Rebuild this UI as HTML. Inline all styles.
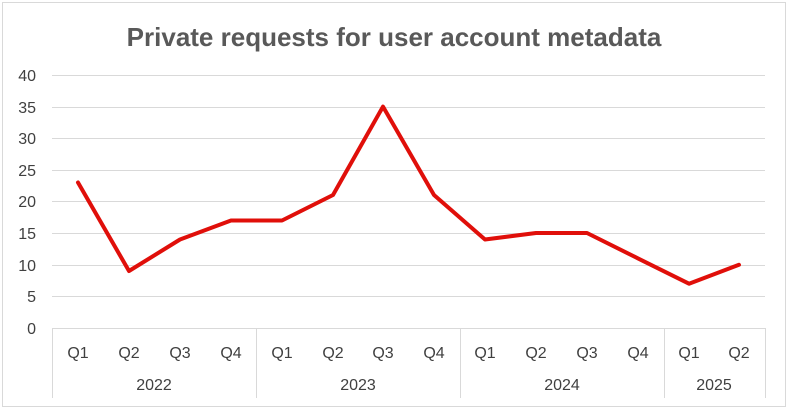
<!DOCTYPE html>
<html><head><style>
body{margin:0;background:#fff;}
svg text{font-family:"Liberation Sans",sans-serif;fill:#404040;}
</style></head><body>
<svg width="788" height="410" xmlns="http://www.w3.org/2000/svg">
<rect x="2.5" y="2.5" width="783" height="404" fill="#fff" stroke="#d9d9d9"/>
<text x="394" y="46" text-anchor="middle" font-size="26" font-weight="bold" style="fill:#595959">Private requests for user account metadata</text>
<g stroke="#d9d9d9" stroke-width="1">
<line x1="52" x2="765" y1="75.5" y2="75.5"/>
<line x1="52" x2="765" y1="107.5" y2="107.5"/>
<line x1="52" x2="765" y1="138.5" y2="138.5"/>
<line x1="52" x2="765" y1="170.5" y2="170.5"/>
<line x1="52" x2="765" y1="201.5" y2="201.5"/>
<line x1="52" x2="765" y1="233.5" y2="233.5"/>
<line x1="52" x2="765" y1="265.5" y2="265.5"/>
<line x1="52" x2="765" y1="296.5" y2="296.5"/>
<line x1="52" x2="765" y1="328.5" y2="328.5"/>
<line x1="52.5" x2="52.5" y1="328" y2="398"/>
<line x1="256.5" x2="256.5" y1="328" y2="398"/>
<line x1="460.5" x2="460.5" y1="328" y2="398"/>
<line x1="664.5" x2="664.5" y1="328" y2="398"/>
<line x1="765.5" x2="765.5" y1="328" y2="398"/>
</g>
<g font-size="16" text-anchor="end">
<text x="36" y="81">40</text><text x="36" y="113">35</text><text x="36" y="144">30</text>
<text x="36" y="176">25</text><text x="36" y="207">20</text><text x="36" y="239">15</text>
<text x="36" y="271">10</text><text x="36" y="302">5</text><text x="36" y="334">0</text>
</g>
<g font-size="16" text-anchor="middle">
<text x="78" y="358">Q1</text><text x="129" y="358">Q2</text><text x="180" y="358">Q3</text><text x="231" y="358">Q4</text>
<text x="282" y="358">Q1</text><text x="333" y="358">Q2</text><text x="383" y="358">Q3</text><text x="434" y="358">Q4</text>
<text x="485" y="358">Q1</text><text x="536" y="358">Q2</text><text x="587" y="358">Q3</text><text x="638" y="358">Q4</text>
<text x="689" y="358">Q1</text><text x="739" y="358">Q2</text>
<text x="154" y="390">2022</text><text x="358" y="390">2023</text><text x="562" y="390">2024</text><text x="714" y="390">2025</text>
</g>
<polyline fill="none" stroke="#e00f0a" stroke-width="4" stroke-linejoin="round" stroke-linecap="round"
points="78,182.5 129,271 180,239.5 231,220.5 282,220.5 333,195 383,106.6 434,195 485,239.5 536,233 587,233 638,258.4 689,283.7 739,264.8"/>
</svg>
</body></html>
